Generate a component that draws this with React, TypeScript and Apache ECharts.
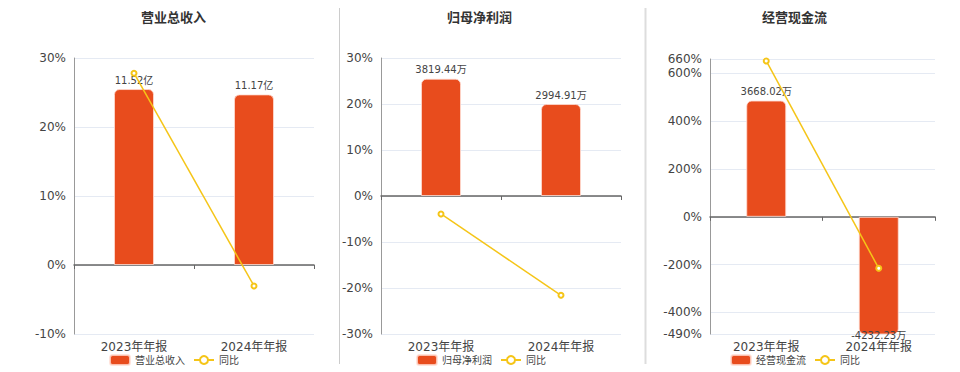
import React, { useEffect, useRef } from "react";
import * as echarts from "echarts";

const categories = ["2023年年报", "2024年年报"];

const panelTitles = ["营业总收入", "归母净利润", "经营现金流"];
const units = ["亿", "万", "万"];

const revenue = [11.52, 11.17];
const revenueYoY = [27.8, -3.04];

const netProfit = [3819.44, 2994.91];
const netProfitYoY = [-3.9, -21.59];

const cashFlow = [3668.02, -4232.23];
const cashFlowYoY = [652, -215.38];

const pctMin = [-10, -30, -490];
const pctMax = [30, 30, 660];
const pctTicks = [
  [-10, 0, 10, 20, 30],
  [-30, -20, -10, 0, 10, 20, 30],
  [-490, -400, -200, 0, 200, 400, 600, 660],
];

const BAR_COLOR = "#E84C1D";
const LINE_COLOR = "#F5C518";
const FONT = "'DejaVu Sans', 'Noto Sans CJK SC', sans-serif";

export default function App() {
  const ref = useRef<HTMLDivElement>(null);

  useEffect(() => {
    if (!ref.current) return;
    const chart = echarts.init(ref.current, null, { renderer: "svg" });

    const barData = [revenue, netProfit, cashFlow];
    const yoyData = [revenueYoY, netProfitYoY, cashFlowYoY];

    const grids = [
      { left: 74, right: 646, top: 58, bottom: 38 },
      { left: 381, right: 339, top: 58, bottom: 38 },
      { left: 710, right: 25, top: 59, bottom: 38 },
    ];
    const titleLeft = [141, 447, 762];
    const legendLeft = [109, 416, 730];

    const xAxis: any[] = [];
    const yAxis: any[] = [];
    const series: any[] = [];
    const title: any[] = [];
    const legend: any[] = [];

    for (let p = 0; p < 3; p++) {
      const maxAbs = Math.max(...barData[p].map((v) => Math.abs(v)));
      const barMax = maxAbs / 0.85;
      const barMin = (barMax * pctMin[p]) / pctMax[p];

      title.push({
        text: panelTitles[p],
        left: titleLeft[p],
        top: 11,
        padding: 0,
        textStyle: { fontSize: 13, fontWeight: "bold", color: "#333", fontFamily: FONT },
      });

      legend.push({
        left: legendLeft[p],
        top: 354,
        padding: 0,
        itemWidth: 20,
        itemHeight: 10,
        itemGap: 8,
        data: [
          { name: panelTitles[p], icon: "roundRect" },
          { name: "同比" },
        ],
        textStyle: { fontSize: 10, color: "#444", fontFamily: FONT },
      });

      // label axis at bottom
      xAxis.push({
        type: "category",
        gridIndex: p,
        data: categories,
        position: "bottom",
        axisLine: { show: false, onZero: false },
        axisTick: { show: false },
        axisLabel: { fontSize: 12, color: "#444", margin: 7, fontFamily: FONT },
      });
      // zero line axis
      xAxis.push({
        type: "category",
        gridIndex: p,
        data: categories,
        position: "bottom",
        axisLine: { show: true, onZero: true, lineStyle: { color: "#666", width: 1.5 } },
        axisTick: { show: true, length: 4, lineStyle: { color: "#666" } },
        axisLabel: { show: false },
      });

      yAxis.push({
        type: "value",
        gridIndex: p,
        min: pctMin[p],
        max: pctMax[p],
        position: "left",
        axisLine: { show: true, lineStyle: { color: "#999", width: 1 } },
        axisTick: { show: false, customValues: pctTicks[p] },
        axisLabel: {
          customValues: pctTicks[p],
          formatter: "{value}%",
          fontSize: 12,
          color: "#444",
          fontFamily: FONT,
        },
        splitLine: { show: true, lineStyle: { color: "#E5EAF3", width: 1 } },
      });
      yAxis.push({
        type: "value",
        gridIndex: p,
        min: barMin,
        max: barMax,
        position: "right",
        show: false,
        splitLine: { show: false },
      });

      series.push({
        name: panelTitles[p],
        type: "bar",
        xAxisIndex: p * 2,
        yAxisIndex: p * 2 + 1,
        barWidth: 40,
        data: barData[p].map((v) => ({
          value: v,
          itemStyle: {
            borderRadius: v >= 0 ? [5, 5, 0, 0] : [0, 0, 5, 5],
          },
          label: {
            position: v >= 0 ? "top" : "bottom",
            distance: v >= 0 ? 4 : -4,
          },
        })),
        itemStyle: { color: BAR_COLOR, borderColor: "rgba(255,220,210,0.8)", borderWidth: 1 },
        label: {
          show: true,
          fontSize: 10,
          color: "#444",
          fontFamily: FONT,
          formatter: (prm: any) => prm.value.toFixed(2) + units[p],
        },
        z: 2,
      });
      series.push({
        name: "同比",
        type: "line",
        xAxisIndex: p * 2,
        yAxisIndex: p * 2,
        data: yoyData[p],
        symbol: "emptyCircle",
        symbolSize: 5,
        lineStyle: { color: LINE_COLOR, width: 1.5 },
        itemStyle: { color: LINE_COLOR, borderWidth: 1.5 },
        z: 5,
      });
    }

    chart.setOption({
      animation: false,
      backgroundColor: "#fff",
      color: [BAR_COLOR, LINE_COLOR],
      textStyle: { fontFamily: FONT },
      title,
      legend,
      grid: grids,
      xAxis,
      yAxis,
      series,
      graphic: [
        {
          type: "line",
          shape: { x1: 339.5, y1: 8, x2: 339.5, y2: 364 },
          style: { stroke: "#ccc", lineWidth: 1 },
        },
        {
          type: "line",
          shape: { x1: 645.5, y1: 8, x2: 645.5, y2: 364 },
          style: { stroke: "#ddd", lineWidth: 2 },
        },
      ],
    });

    return () => chart.dispose();
  }, []);

  return (
    <div
      ref={ref}
      style={{ position: "absolute", left: 0, top: 0, width: 960, height: 372 }}
    />
  );
}
